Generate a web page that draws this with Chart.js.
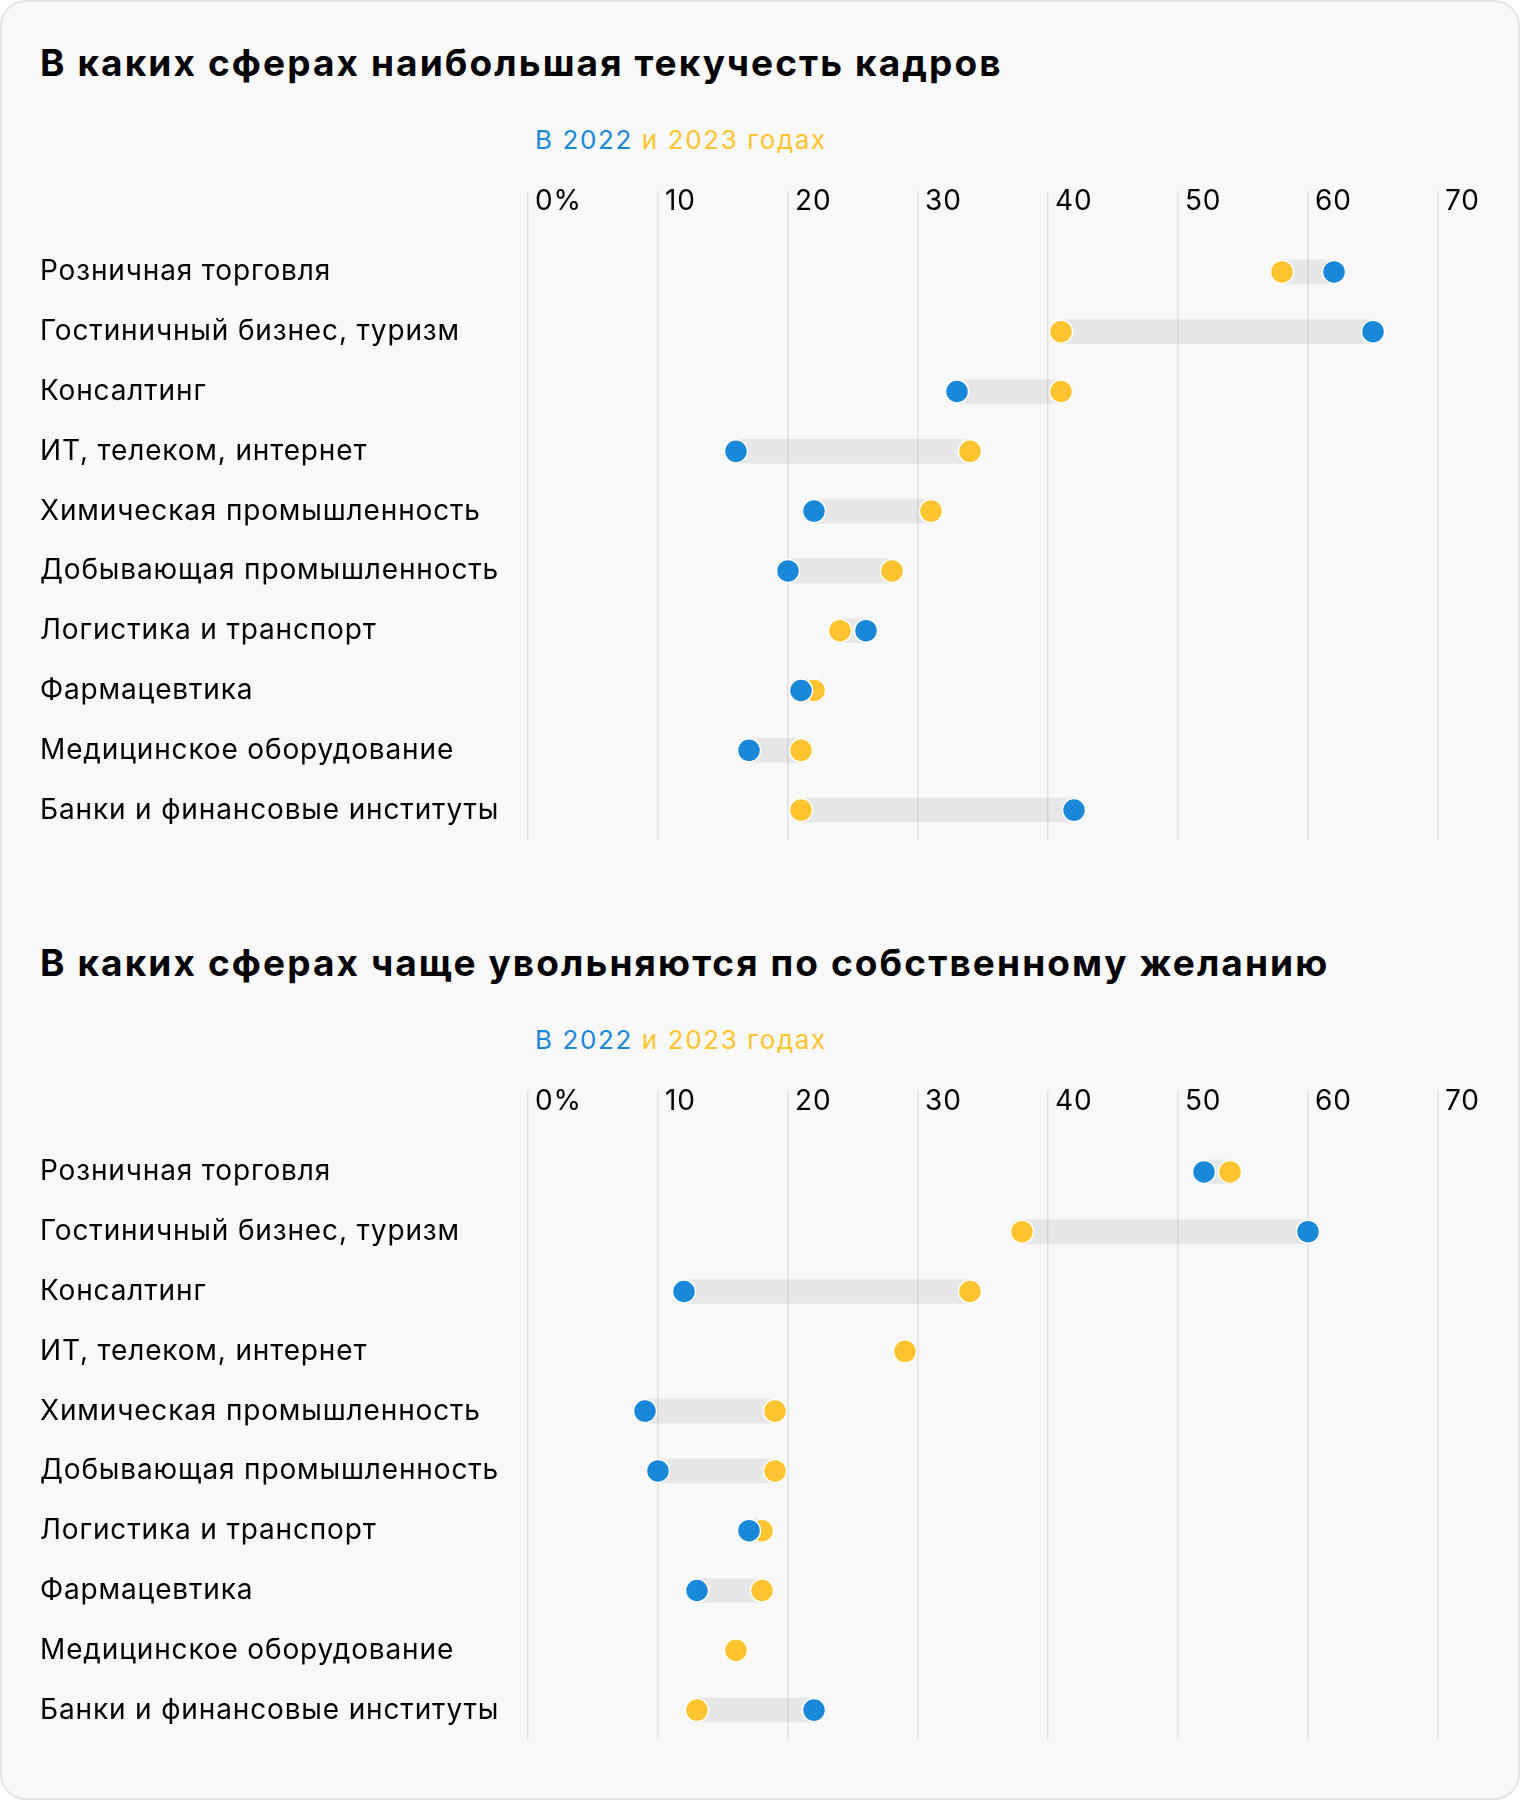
<!DOCTYPE html>
<html lang="ru">
<head>
<meta charset="utf-8">
<title>Текучесть кадров</title>
<script src="https://cdn.jsdelivr.net/npm/chart.js@4.4.1/dist/chart.umd.min.js"></script>
<style>
  html, body { margin: 0; padding: 0; background: #ffffff; }
  .card {
    position: absolute; left: 0; top: 0;
    width: 1516px; height: 1796px;
    border: 2px solid #e4e4e4; border-radius: 26px;
    background: #f8f8f8;
    font-family: Inter, "Noto Sans", sans-serif;
  }
  .title {
    position: absolute; left: 38px;
    margin: 0; font-size: 37px; font-weight: 700; line-height: 1;
    letter-spacing: 2.1px; color: #000;
  }
  .subtitle {
    position: absolute; left: 533px;
    font-size: 26px; line-height: 1; letter-spacing: 1.6px;
  }
  .blue { color: #1a88d8; }
  .yellow { color: #ffc430; }
  .box { position: absolute; left: -2px; width: 1520px; height: 670px; }
</style>
</head>
<body>
<div class="card">
  <h2 class="title" style="top:42px">В каких сферах наибольшая текучесть кадров</h2>
  <div class="subtitle" style="top:125px"><span class="blue">В 2022</span> <span class="yellow">и 2023 годах</span></div>
  <div class="box" style="top:168px"><canvas id="turnoverChart"></canvas></div>

  <h2 class="title" style="top:942px">В каких сферах чаще увольняются по собственному желанию</h2>
  <div class="subtitle" style="top:1025px"><span class="blue">В 2022</span> <span class="yellow">и 2023 годах</span></div>
  <div class="box" style="top:1068px"><canvas id="quitChart"></canvas></div>
</div>

<script>
// --- Data ---
const sectors = [
    'Розничная торговля',
    'Гостиничный бизнес, туризм',
    'Консалтинг',
    'ИТ, телеком, интернет',
    'Химическая промышленность',
    'Добывающая промышленность',
    'Логистика и транспорт',
    'Фармацевтика',
    'Медицинское оборудование',
    'Банки и финансовые институты'
];

// Общая текучесть кадров, %
const turnover2022 = [62, 65, 33, 16, 22, 20, 26, 21, 17, 42];
const turnover2023 = [58, 41, 41, 34, 31, 28, 24, 22, 21, 21];

// Увольнения по собственному желанию, % (null — нет данных за 2022)
const quit2022 = [52, 60, 12, null, 9, 10, 17, 13, null, 22];
const quit2023 = [54, 38, 34, 29, 19, 19, 18, 18, 16, 13];

const xTicks = [0, 10, 20, 30, 40, 50, 60, 70];

const BLUE = '#1a88d8';
const YELLOW = '#ffc430';

// the reference font is a bit wider than Inter
const spacingPlugin = {
    id: 'letterSpacing',
    beforeDraw(chart) {
        chart.ctx.letterSpacing = '0.85px';
    }
};

// --- Render one dumbbell chart ---
function renderDumbbell(canvasId, values2022, values2023) {
    const ctx = document.getElementById(canvasId);
    if (!ctx) return;

    // gray range between two years
    const ranges = values2022.map((v, i) => {
        const w = values2023[i];
        if (v == null || w == null) return null;
        return [Math.min(v, w), Math.max(v, w)];
    });

    const dotStyle = {
        type: 'line',
        indexAxis: 'y',
        showLine: false,
        pointRadius: 11.5,
        pointHoverRadius: 11.5,
        pointBorderWidth: 1.5,
        pointBorderColor: '#ffffff'
    };

    new Chart(ctx, {
        type: 'bar',
        data: {
            labels: sectors,
            datasets: [
                Object.assign({}, dotStyle, {
                    label: '2022',
                    data: values2022,
                    backgroundColor: BLUE,
                    pointBackgroundColor: BLUE,
                    order: 1
                }),
                Object.assign({}, dotStyle, {
                    label: '2023',
                    data: values2023,
                    backgroundColor: YELLOW,
                    pointBackgroundColor: YELLOW,
                    order: 2
                }),
                {
                    type: 'bar',
                    label: 'range',
                    data: ranges,
                    backgroundColor: 'rgba(0, 0, 0, 0.065)',
                    barThickness: 24,
                    borderSkipped: false,
                    order: 3
                }
            ]
        },
        plugins: [spacingPlugin],
        options: {
            indexAxis: 'y',
            responsive: true,
            maintainAspectRatio: false,
            animation: false,
            events: [],
            layout: {
                autoPadding: false,
                padding: { left: 40, right: 82, top: 12, bottom: 0 }
            },
            plugins: {
                legend: { display: false },
                tooltip: { enabled: false }
            },
            scales: {
                x: {
                    position: 'top',
                    min: 0,
                    max: 70,
                    afterBuildTicks: (scale) => {
                        scale.ticks = xTicks.map(v => ({ value: v }));
                    },
                    afterFit: (scale) => {
                        scale.height = 60;
                        scale.paddingLeft = 0;
                        scale.paddingRight = 0;
                    },
                    border: { display: false },
                    grid: {
                        color: '#e1e1e1',
                        lineWidth: 1.5,
                        tickLength: 51,
                        tickColor: '#e1e1e1',
                        tickWidth: 1.5
                    },
                    ticks: {
                        align: 'start',
                        labelOffset: 7,
                        padding: -27,
                        color: '#000',
                        font: { family: 'Inter', size: 28 },
                        callback: (value) => value === 0 ? '0%' : String(value)
                    }
                },
                y: {
                    afterFit: (scale) => {
                        scale.width = 488;
                        scale.paddingTop = 0;
                        scale.paddingBottom = 0;
                    },
                    border: { display: false },
                    grid: { display: false },
                    ticks: {
                        crossAlign: 'far',
                        color: '#000',
                        font: { family: 'Inter', size: 28 }
                    }
                }
            }
        }
    });
}

renderDumbbell('turnoverChart', turnover2022, turnover2023);
renderDumbbell('quitChart', quit2022, quit2023);
</script>
</body>
</html>
